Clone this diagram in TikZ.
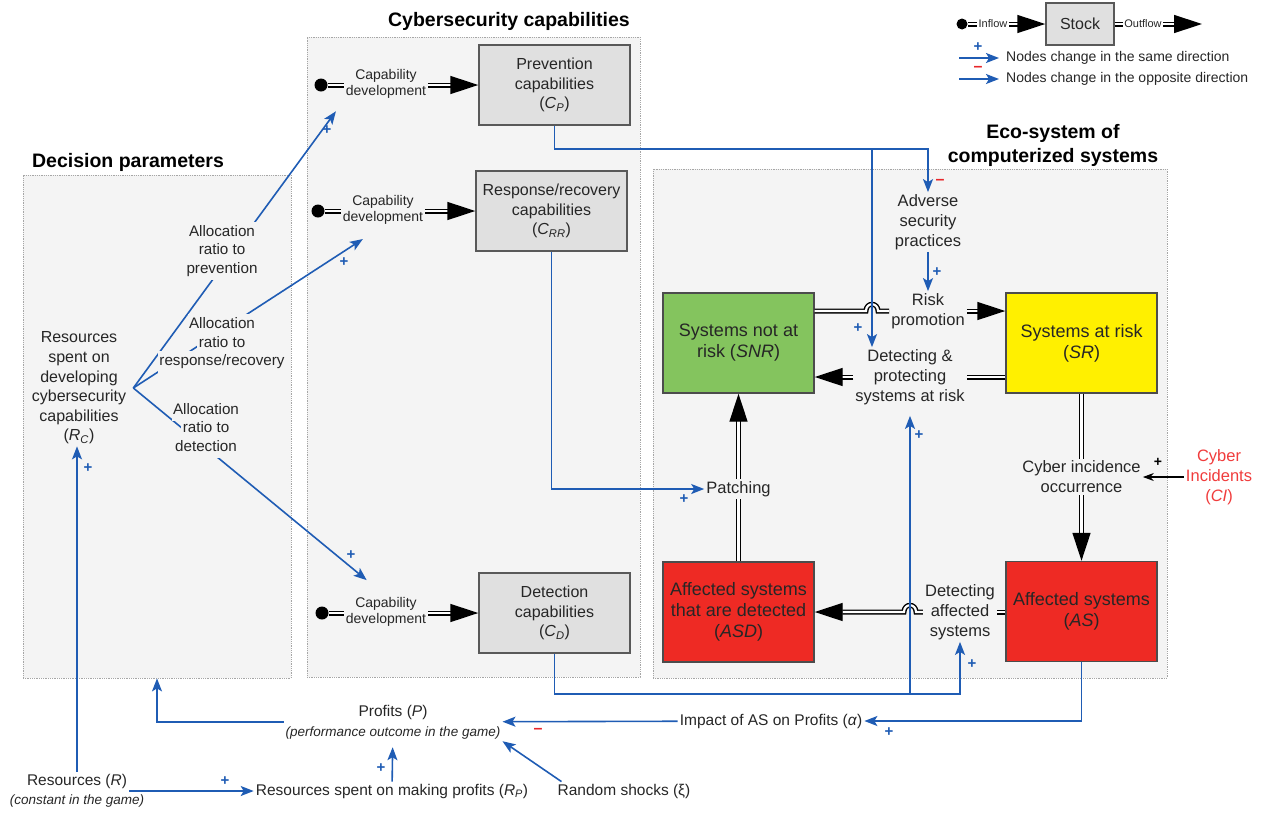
\documentclass[tikz,border=0pt]{standalone}
\usepackage{fontspec}
\setmainfont{Liberation Sans}
\usetikzlibrary{arrows.meta}

\definecolor{linkblue}{HTML}{1F5CB4}
\definecolor{panelbg}{HTML}{F4F4F4}
\definecolor{stockgray}{HTML}{E0E0E0}
\definecolor{snrgreen}{HTML}{84C45E}
\definecolor{sryellow}{HTML}{FFF000}
\definecolor{asred}{HTML}{EE2A24}
\definecolor{minusred}{HTML}{E8262A}
\definecolor{cired}{HTML}{F03C3C}
\newcommand\knock[1]{{\setlength{\fboxsep}{1.5pt}\colorbox{panelbg}{\strut #1}}}
\newcommand\tightlines{\setlength{\lineskiplimit}{-20pt}}

\begin{document}
\begin{tikzpicture}[x=1pt, y=-1pt,
  every node/.style={text=black!85},
  panel/.style={draw=black!35, densely dotted, line width=0.8pt, fill=panelbg},
  stock/.style={draw=black!65, fill=stockgray, line width=1.4pt, minimum width=151pt, minimum height=80pt, align=center, font=\fontsize{16}{19.5}\selectfont},
  sys/.style={draw=black!70, line width=1.4pt, minimum width=151pt, minimum height=100pt, align=center, font=\fontsize{18}{21}\selectfont},
  lab/.style={align=center, inner sep=2pt, font=\fontsize{16.5}{20}\selectfont},
  botlab/.style={align=center, inner sep=2pt, font=\fontsize{15.5}{20}\selectfont},
  alloc/.style={align=center, inner sep=0pt, font=\fontsize{15.2}{18.5}\selectfont\tightlines},
  capdev/.style={align=center, inner sep=1.5pt, font=\fontsize{14}{15.5}\selectfont},
  tinylab/.style={inner sep=1pt, font=\fontsize{11}{12}\selectfont},
  legtext/.style={inner sep=0pt, font=\fontsize{14}{16}\selectfont},
  ptitle/.style={align=center, text=black, font=\fontsize{19.5}{24}\selectfont\bfseries},
  signp/.style={text=linkblue, inner sep=0pt, font=\fontsize{15}{15}\selectfont\bfseries},
  signm/.style={text=minusred, inner sep=0pt, font=\fontsize{16}{16}\selectfont\bfseries},
  srcdot/.style={circle, fill=black, inner sep=0pt, minimum size=13pt},
  dline/.style={double, double distance=2.2pt, line width=1.4pt},
  flow/.style={dline, -{Triangle[length=28pt, width=18pt]}},
  link/.style={draw=linkblue, line width=1.6pt, -{Stealth[length=13pt, width=10pt, inset=3pt]}}
]
\useasboundingbox (0,0) rectangle (1261,812);

% panels and titles
\node[panel, minimum width=268pt, minimum height=503pt] (dec) at (157,426.5) {};
\node[panel, minimum width=333pt, minimum height=640pt] (cyb) at (473.5,357) {};
\node[panel, minimum width=514pt, minimum height=509pt] (eco) at (910,423.5) {};
\node[ptitle] (tdec) at (128,162) {Decision parameters};
\node[ptitle] (tcyb) at (509,21) {Cybersecurity capabilities};
\node[ptitle] (teco) at (1053,145) {Eco-system of\\computerized systems};

% legend
\node[srcdot, minimum size=11pt] (lgdot) at (962,24) {};
\node[tinylab] (lgin) at (993,24) {Inflow};
\node[stock, minimum width=68pt, minimum height=42pt] (lgstock) at (1080,24) {Stock};
\node[tinylab] (lgout) at (1143,24) {Outflow};
\coordinate (lgend) at (1202,24);
\draw[dline] (lgdot) -- (lgin);
\draw[flow] (lgin) -- (lgstock);
\draw[dline] (lgstock) -- (lgout);
\draw[flow] (lgout) -- (lgend);
\coordinate (lga1) at (959,58);
\coordinate (lga2) at (999,58);
\coordinate (lgb1) at (959,79);
\coordinate (lgb2) at (999,79);
\draw[link] (lga1) -- (lga2);
\draw[link] (lgb1) -- (lgb2);
\node[signp] (lgp) at (978,47) {+};
\node[signm] (lgm) at (978,69) {--};
\node[legtext, anchor=west] (lgt1) at (1006,58) {Nodes change in the same direction};
\node[legtext, anchor=west] (lgt2) at (1006,79) {Nodes change in the opposite direction};

% cybersecurity capabilities
\node[stock] (prev) at (554.5,85) {Prevention\\capabilities\\(\textit{C}\textsubscript{\textit{P}})};
\node[stock] (resp) at (551.5,211) {Response/recovery\\capabilities\\(\textit{C}\textsubscript{\textit{RR}})};
\node[stock] (det) at (554.5,613) {Detection\\capabilities\\(\textit{C}\textsubscript{\textit{D}})};

\node[srcdot] (src1) at (321,85) {};
\node[srcdot] (src2) at (318,211) {};
\node[srcdot] (src3) at (322,613) {};
\node[capdev] (cd1) at (386,84) {Capability\\development};
\node[capdev] (cd2) at (383,210) {Capability\\development};
\node[capdev] (cd3) at (386,612) {Capability\\development};
\draw[dline] (src1) -- (src1 -| cd1.west);
\draw[dline] (src2) -- (src2 -| cd2.west);
\draw[dline] (src3) -- (src3 -| cd3.west);
\draw[flow] (cd1.east |- prev) -- (prev);
\draw[flow] (cd2.east |- resp) -- (resp);
\draw[flow] (cd3.east |- det) -- (det);

% decision parameters
\node[botlab, font=\fontsize{16}{19.6}\selectfont] (rc) at (79,388) {Resources\\spent on\\developing\\cybersecurity\\capabilities\\(\textit{R}\textsubscript{\textit{C}})};
\coordinate (rcb) at ([xshift=5pt]rc.east);
\draw[link, shorten >=14pt] (rcb) -- (cd1.south west);
\draw[link, shorten >=24pt] (rcb) -- (cd2.south);
\draw[link, shorten >=25pt] (rcb) -- (cd3.north);
\node[alloc] (al1) at (222,251) {\knock{Allocation}\\\knock{ratio to}\\\knock{prevention}};
\node[alloc] (al2) at (222,343.5) {\knock{Allocation}\\\knock{ratio to}\\\knock{response/recovery}};
\node[alloc] (al3) at (206,429) {\knock{Allocation}\\\knock{ratio to}\\\knock{detection}};
\node[signp] (p1) at (327,130) {+};
\node[signp] (p2) at (344,262) {+};
\node[signp] (p3) at (351,555) {+};

% eco-system
\node[sys, fill=snrgreen] (snr) at (738.5,343) {Systems not at\\risk (\textit{SNR})};
\node[sys, fill=sryellow] (sr) at (1081.5,343) {Systems at risk\\(\textit{SR})};
\node[sys, fill=asred] (asd) at (738.5,612) {Affected systems\\that are detected\\(\textit{ASD})};
\node[sys, fill=asred] (as) at (1081.5,611.5) {Affected systems\\(\textit{AS})};

\node[lab] (adverse) at (928,222) {Adverse\\security\\practices};
\node[lab] (riskprom) at (928,311) {Risk\\promotion};
\node[lab] (detprot) at (910,377) {Detecting \&\\protecting\\systems at risk};
\node[lab] (cyberocc) at (1081.5,477) {Cyber incidence\\occurrence};
\node[lab] (patch) at (738.5,489) {Patching};
\node[lab] (detaff) at (960,612) {Detecting\\affected\\systems};
\node[lab, text=cired] (ci) at (1219,477) {Cyber\\Incidents\\(\textit{CI})};

\coordinate (hopa) at (866,311);
\coordinate (hopb) at (878,311);
\coordinate (hopc) at (916,612);
\coordinate (hopd) at (904,612);
\draw[dline] (snr.east |- riskprom) -- (hopa) .. controls +(0,-9) and +(0,-9) .. (hopb) -- (riskprom.west);
\draw[flow] (riskprom.east) -- (sr.west |- riskprom);
\draw[dline] (sr.west |- detprot) -- (detprot.east);
\draw[flow] (detprot.west) -- (snr.east |- detprot);
\draw[dline] (sr) -- (cyberocc);
\draw[flow] (cyberocc) -- (as);
\draw[dline] (asd) -- (patch);
\draw[flow] (patch) -- (snr);
\draw[dline] (as.west |- detaff) -- (detaff.east);
\draw[flow] (detaff.west) -- (hopc) .. controls +(0,-9) and +(0,-9) .. (hopd) -- (asd.east |- detaff);
\draw[line width=1.2pt, -{Stealth[length=11pt, width=8pt]}] (ci) -- (cyberocc);
\node[inner sep=0pt, text=black, font=\fontsize{14}{14}\selectfont\bfseries] (pci) at (1158,462) {+};

\coordinate (jn1) at (872,149);
\coordinate (jn2) at (910,694);
\draw[link] (prev.south) |- (jn1) -| (adverse.north);
\draw[link] (jn1) -- (jn1 |- detprot.north);
\draw[link] (adverse) -- (riskprom);
\draw[link] (resp.south) |- (patch.west);
\draw[link] (det.south) |- (jn2) -| (detaff.south);
\draw[link, shorten >=9pt] (jn2) -- (jn2 |- detprot.south);
\node[signm] (m1) at (940,182) {--};
\node[signp] (p4) at (937,272) {+};
\node[signp] (p5) at (858,328) {+};
\node[signp] (p6) at (684,499) {+};
\node[signp] (p7) at (919,435) {+};
\node[signp] (p8) at (972,664) {+};

% profits
\node[botlab] (profits) at (393,722) {Profits (\textit{P})\\{\fontsize{13.5}{16}\selectfont\itshape (performance outcome in the game)}};
\node[botlab] (impact) at (771,721) {Impact of AS on Profits (\textit{α})};
\node[botlab] (resR) at (77,781) {Resources (\textit{R})};
\node[inner sep=1pt, font=\fontsize{13.5}{16}\selectfont\itshape] (resC) at (77,801) {(constant in the game)};
\node[botlab] (rp) at (392,791) {Resources spent on making profits (\textit{R}\textsubscript{\textit{P}})};
\node[botlab] (shocks) at (624,791) {Random shocks (ξ)};

\draw[link] (as.south) |- (impact.east);
\draw[link] (impact) -- (profits);
\draw[link] (profits.west) -| (dec.south);
\draw[link] (resR.north) -- (resR.north |- rc.south);
\draw[link] (resR.east |- rp) -- (rp.west);
\draw[link, shorten >=6pt] (rp) -- (profits);
\draw[link] ([xshift=6pt]shocks.north west) -- (profits.south east);
\node[signp] (p9) at (889,732) {+};
\node[signm] (m2) at (538,731) {--};
\node[signp] (p10) at (88,468) {+};
\node[signp] (p11) at (225,781) {+};
\node[signp] (p12) at (381,768) {+};

\end{tikzpicture}
\end{document}
